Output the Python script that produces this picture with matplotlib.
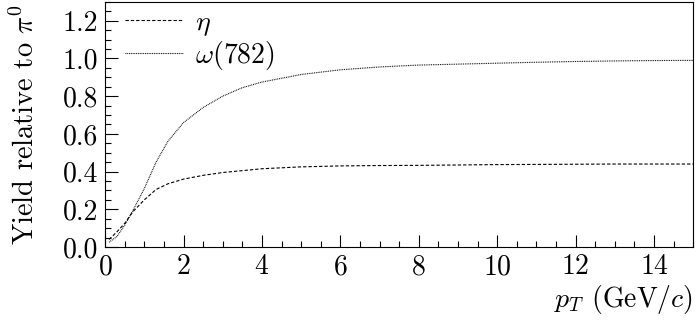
import matplotlib
matplotlib.use('Agg')
import matplotlib.pyplot as plt
from matplotlib.ticker import MultipleLocator

plt.rcParams['font.family'] = 'serif'
plt.rcParams['font.serif'] = ['cmr10']
plt.rcParams['mathtext.fontset'] = 'cm'
plt.rcParams['axes.formatter.use_mathtext'] = True
plt.rcParams['axes.unicode_minus'] = False

# values
pt = [0.1, 0.3, 0.5, 0.7, 1.0, 1.3, 1.6, 2.0, 2.5, 3.0, 3.5, 4.0, 5.0,
      6.0, 7.0, 8.0, 9.0, 10.0, 11.0, 12.0, 13.0, 14.0, 15.0]
eta = [0.04, 0.08, 0.125, 0.185, 0.25, 0.305, 0.335, 0.36, 0.38, 0.395, 0.405,
       0.415, 0.425, 0.43, 0.432, 0.433, 0.435, 0.437, 0.438, 0.439, 0.44,
       0.44, 0.44]
omega = [0.025, 0.055, 0.115, 0.19, 0.31, 0.45, 0.56, 0.66, 0.74, 0.80, 0.845,
         0.875, 0.915, 0.94, 0.955, 0.965, 0.97, 0.975, 0.98, 0.984, 0.987,
         0.989, 0.99]

fig = plt.figure(figsize=(6.96, 3.22), dpi=100)
ax = fig.add_axes([0.151, 0.233, 0.845, 0.761])

ax.plot(pt, eta, color='black', lw=0.8, dashes=(3, 1.8), label=r'$\eta$')
ax.plot(pt, omega, color='black', lw=0.8, dashes=(0.8, 0.8), label=r'$\omega(782)$')

ax.set_xlim(0, 15)
ax.set_ylim(0, 1.3)
ax.xaxis.set_major_locator(MultipleLocator(2))
ax.xaxis.set_minor_locator(MultipleLocator(0.5))
ax.yaxis.set_major_locator(MultipleLocator(0.2))
ax.yaxis.set_minor_locator(MultipleLocator(0.05))
ax.yaxis.set_major_formatter(matplotlib.ticker.FormatStrFormatter('%.1f'))
ax.tick_params(which='both', direction='in', labelsize=20, top=False, right=False)
ax.tick_params(which='major', length=9, width=0.8)
ax.tick_params(which='minor', length=4.5, width=0.8)
ax.tick_params(axis='x', pad=5)
ax.tick_params(axis='y', pad=5)
for s in ax.spines.values():
    s.set_linewidth(0.8)

ax.set_ylabel(r'Yield relative to $\pi^0$', fontsize=20.5, labelpad=16)
ax.set_xlabel(r'$p_T$ (GeV/$c$)', fontsize=20, loc='right', labelpad=2)

ax.legend(loc='upper left', frameon=False, fontsize=20, handlelength=2.1,
          handletextpad=0.4, borderaxespad=0.0, borderpad=0.0, labelspacing=0.02,
          bbox_to_anchor=(0.034, 0.968))

fig.savefig('out.png', dpi=100)
